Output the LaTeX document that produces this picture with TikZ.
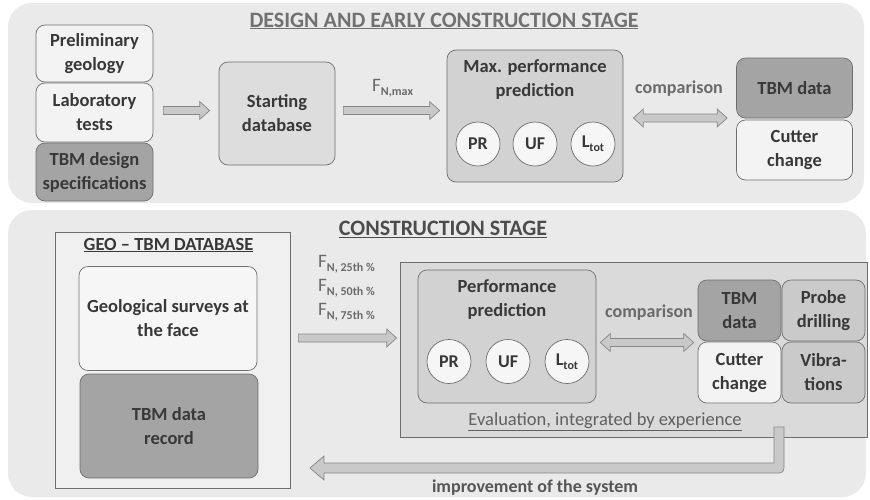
\documentclass[tikz,border=0pt]{standalone}
\usepackage{fontspec}
\setmainfont{Carlito}
\usetikzlibrary{calc}
\definecolor{panel}{HTML}{EAEAEA}
\definecolor{boxline}{HTML}{6E6E6E}
\definecolor{txt}{HTML}{383838}
\definecolor{light}{HTML}{F3F3F3}
\definecolor{dark}{HTML}{A4A4A4}
\definecolor{mid}{HTML}{DDDDDD}
\definecolor{midd}{HTML}{D2D2D2}
\definecolor{grid}{HTML}{CACACA}
\definecolor{evalc}{HTML}{DADADA}
\definecolor{arrfill}{HTML}{C9C9C9}
\definecolor{arrline}{HTML}{868686}
\definecolor{lblc}{HTML}{6A6A6A}
\definecolor{circfill}{HTML}{F6F6F6}
\newcommand\rarrow[2]{\path[harrow] let \p1=(#1), \p2=(#2) in
  (\x1,\y1+4pt) -- (\x2-10pt,\y1+4pt) -- (\x2-10pt,\y1+9pt) -- (\x2,\y1) --
  (\x2-10pt,\y1-9pt) -- (\x2-10pt,\y1-4pt) -- (\x1,\y1-4pt) -- cycle;}
\newcommand\darrow[2]{\path[harrow] let \p1=(#1), \p2=(#2) in
  (\x1,\y1) -- (\x1+10pt,\y1+9pt) -- (\x1+10pt,\y1+4pt) -- (\x2-10pt,\y1+4pt) -- (\x2-10pt,\y1+9pt) -- (\x2,\y1) --
  (\x2-10pt,\y1-9pt) -- (\x2-10pt,\y1-4pt) -- (\x1+10pt,\y1-4pt) -- (\x1+10pt,\y1-9pt) -- cycle;}
\tikzset{
  box/.style={draw=boxline, line width=0.7pt, rounded corners=9pt, align=center,
    font=\bfseries\fontsize{18.5}{24}\selectfont, text=txt, inner sep=0pt},
  circ/.style={circle, draw=boxline, line width=0.7pt, fill=circfill, minimum size=44pt, inner sep=0pt,
    font=\bfseries\fontsize{18}{18}\selectfont, text=txt},
  harrow/.style={draw=arrline, fill=arrfill, line width=0.7pt, line join=miter},
  lbl/.style={text=lblc, font=\bfseries\fontsize{18}{20}\selectfont},
  flbl/.style={text=lblc, anchor=west, inner sep=0pt, font=\fontsize{19}{20}\selectfont},
}
\newcommand\sub[1]{\raisebox{-0.45ex}{\bfseries\fontsize{12}{12}\selectfont #1}}
\begin{document}
\begin{tikzpicture}[x=1pt,y=-1pt]
\useasboundingbox[fill=white] (0,0) rectangle (870,499);
% panels
\fill[panel, rounded corners=24pt] (8,3) rectangle (864,203);
\fill[panel, rounded corners=24pt] (8,210) rectangle (866,497);
% ---- top stage
\node[text=lblc!95!white, font=\bfseries\fontsize{22}{24}\selectfont] (t1) at (444,21) {\underline{DESIGN AND EARLY CONSTRUCTION STAGE}};
\node[box, fill=light, minimum width=117pt, minimum height=57pt] (prelim) at (94.5,53.5) {Preliminary\\geology};
\node[box, fill=light, minimum width=117pt, minimum height=59pt] (lab) at (94.5,112.5) {Laboratory\\tests};
\node[box, fill=dark, minimum width=117pt, minimum height=58pt] (spec) at (94.5,172) {TBM design\\specifications};
\node[box, fill=mid, minimum width=116pt, minimum height=103pt] (startdb) at (277,113.5) {Starting\\database};
\node[box, fill=midd, minimum width=176pt, minimum height=132pt] (maxpp) at (535,116) {};
\node[box, draw=none, fill=none, anchor=north] (maxppt) at ($(maxpp.north)+(0,10)$) {Max. performance\\prediction};
\node[circ] (pr1) at (478,144) {PR};
\node[circ] (uf1) at (535,144) {UF};
\node[circ] (lt1) at (593,144) {L\sub{tot}};
\node[box, fill=dark, minimum width=116pt, minimum height=60pt] (tbm1) at (794.5,88) {TBM data};
\node[box, fill=light, minimum width=116pt, minimum height=60pt] (cut1) at (794.5,150) {Cutter\\change};
\node[flbl] (fmax) at (372,88) {F\sub{N,max}};
\node[lbl] (cmp1) at (679,89) {comparison};
\rarrow{$(lab.east)+(10,-2)$}{$(startdb.west)+(-9,0)$}
\rarrow{$(startdb.east)+(8,-3)$}{$(maxpp.west)+(-7,0)$}
\darrow{$(maxpp.east)+(10,2)$}{$(tbm1.west)+(-9,0)$}
% ---- bottom stage
\node[text=txt!90!white, font=\bfseries\fontsize{22}{24}\selectfont] (t2) at (443,229) {\underline{CONSTRUCTION STAGE}};
\node[draw=boxline, line width=0.7pt, fill=panel!70!white, minimum width=235pt, minimum height=256pt, inner sep=0pt] (geodb) at (172.5,360) {};
\node[text=txt, font=\bfseries\fontsize{18.5}{20}\selectfont] (geot) at (168.5,245) {\underline{GEO -- TBM DATABASE}};
\node[box, fill=circfill, minimum width=178pt, minimum height=104pt] (geos) at (168,318.5) {Geological surveys at\\the face};
\node[box, fill=dark, minimum width=178pt, minimum height=104pt] (tbmrec) at (169,426) {TBM data\\record};
\node[flbl] (f25) at (318,264) {F\sub{N, 25th \%}};
\node[flbl] (f50) at (318,288) {F\sub{N, 50th \%}};
\node[flbl] (f75) at (318,312) {F\sub{N, 75th \%}};
\node[draw=boxline, line width=0.7pt, fill=evalc, minimum width=467pt, minimum height=175pt, inner sep=0pt] (eval) at (633.5,349.5) {};
\node[box, fill=midd, minimum width=178pt, minimum height=133pt] (pp2) at (507,336.5) {};
\node[box, draw=none, fill=none, anchor=north] (pp2t) at ($(pp2.north)+(0,10)$) {Performance\\prediction};
\node[circ] (pr2) at (449,361.5) {PR};
\node[circ] (uf2) at (508,361.5) {UF};
\node[circ] (lt2) at (567,361.5) {L\sub{tot}};
\node[box, fill=dark, minimum width=83pt, minimum height=61pt] (tbm2) at (739.5,310.5) {TBM\\data};
\node[box, fill=grid, minimum width=83pt, minimum height=61pt] (probe) at (823.5,310.5) {Probe\\drilling};
\node[box, fill=light, minimum width=83pt, minimum height=61pt] (cut2) at (739.5,372.5) {Cutter\\change};
\node[box, fill=grid, minimum width=83pt, minimum height=61pt] (vib) at (823.5,372.5) {Vibra-\\tions};
\node[lbl] (cmp2) at (649,313) {comparison};
\node[text=txt!80!white, font=\fontsize{18.5}{20}\selectfont] (evt) at (605,422) {\underline{Evaluation, integrated by experience}};
\rarrow{$(geodb.east)+(8,-22)$}{$(eval.west)+(-3,0)$}
\darrow{$(pp2.east)+(4,6)$}{$(tbm2.west)+(-4,0)$}
\coordinate (impTop) at (779,427);
\coordinate (impEnd) at (310,468);
\path[harrow] let \p1=(impTop), \p2=(impEnd) in
  (\x1-5pt,\y1) -- (\x1+5pt,\y1) -- (\x1+5pt,\y2+5pt) .. controls (\x1+5pt,\y2-5pt) .. (\x1-5pt,\y2-5pt)
  -- (\x2+14pt,\y2-5pt) -- (\x2+14pt,\y2-12pt) -- (\x2,\y2) -- (\x2+14pt,\y2+12pt) -- (\x2+14pt,\y2+5pt)
  -- (\x1-5pt,\y2+5pt) -- cycle;
\node[text=txt!85!white, font=\bfseries\fontsize{18}{20}\selectfont] (imp) at (535,488) {improvement of the system};
\end{tikzpicture}
\end{document}
